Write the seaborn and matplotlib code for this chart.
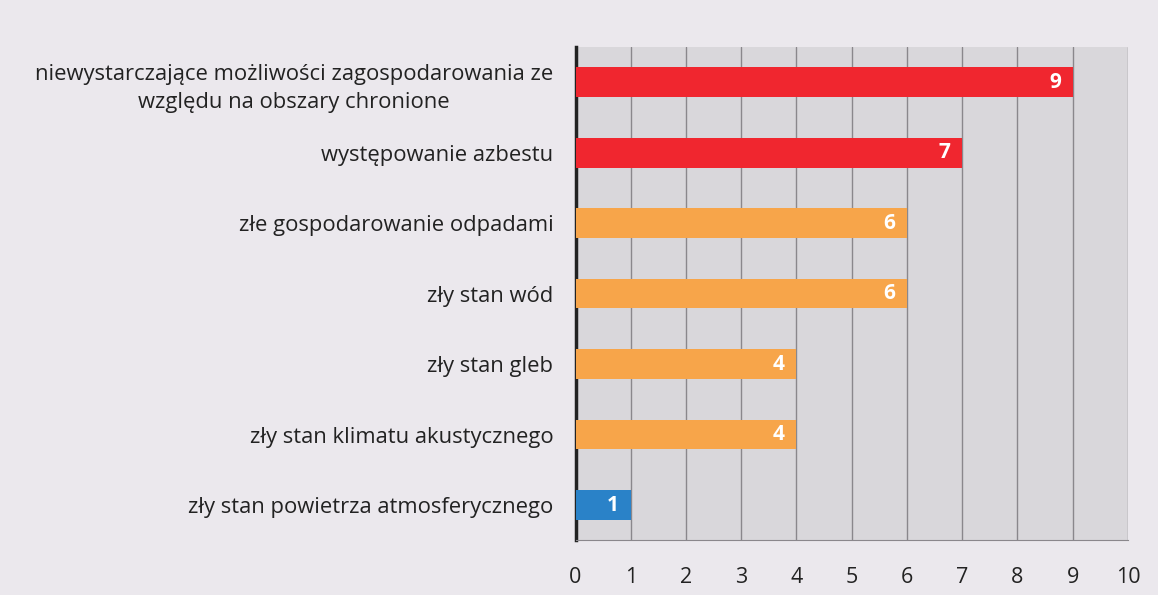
import matplotlib
matplotlib.use("Agg")
import matplotlib.pyplot as plt
import seaborn as sns
import pandas as pd

categories = [
    "niewystarczające możliwości zagospodarowania ze\nwzględu na obszary chronione",
    "występowanie azbestu",
    "złe gospodarowanie odpadami",
    "zły stan wód",
    "zły stan gleb",
    "zły stan klimatu akustycznego",
    "zły stan powietrza atmosferycznego",
]
values = [9, 7, 6, 6, 4, 4, 1]
bar_colors = ["#f0262f", "#f0262f", "#f7a54a", "#f7a54a", "#f7a54a", "#f7a54a", "#2a82c8"]
x_ticks = list(range(0, 11))

df = pd.DataFrame({"problem": categories, "count": values})

sns.set_style("white")
plt.rcParams["font.family"] = ["Open Sans", "DejaVu Sans"]

fig = plt.figure(figsize=(11.58, 5.95), dpi=100)
fig.patch.set_facecolor("#ebe8ed")
ax = fig.add_axes([0.497, 0.092, 0.477, 0.829])
ax.set_facecolor("#d9d7db")

sns.barplot(data=df, x="count", y="problem", hue="problem", palette=bar_colors,
            legend=False, width=0.42, saturation=1, linewidth=0, ax=ax, zorder=3)

ax.set_xlim(0, 10)
ax.set_xticks(x_ticks)
ax.xaxis.grid(True, color="#8a878c", linewidth=1.0, zorder=0)
ax.set_axisbelow(True)
ax.tick_params(axis="x", length=0, labelsize=15.5, pad=19, colors="#222222")
ax.tick_params(axis="y", length=0, labelsize=15.8, pad=16, colors="#222222")
ax.set_xlabel("")
ax.set_ylabel("")
for lbl in ax.get_yticklabels():
    lbl.set_multialignment("center")
    lbl.set_linespacing(1.45)

ax.spines["left"].set_color("#222222")
ax.spines["left"].set_linewidth(2.5)
ax.spines["bottom"].set_color("#8a878c")
ax.spines["top"].set_visible(False)
ax.spines["right"].set_visible(False)

for i, v in enumerate(values):
    ax.text(v - 0.32, i, str(v), color="white", fontsize=15, fontweight="bold",
            ha="center", va="center", zorder=4)

fig.savefig("out.png", dpi=100, facecolor=fig.get_facecolor())
